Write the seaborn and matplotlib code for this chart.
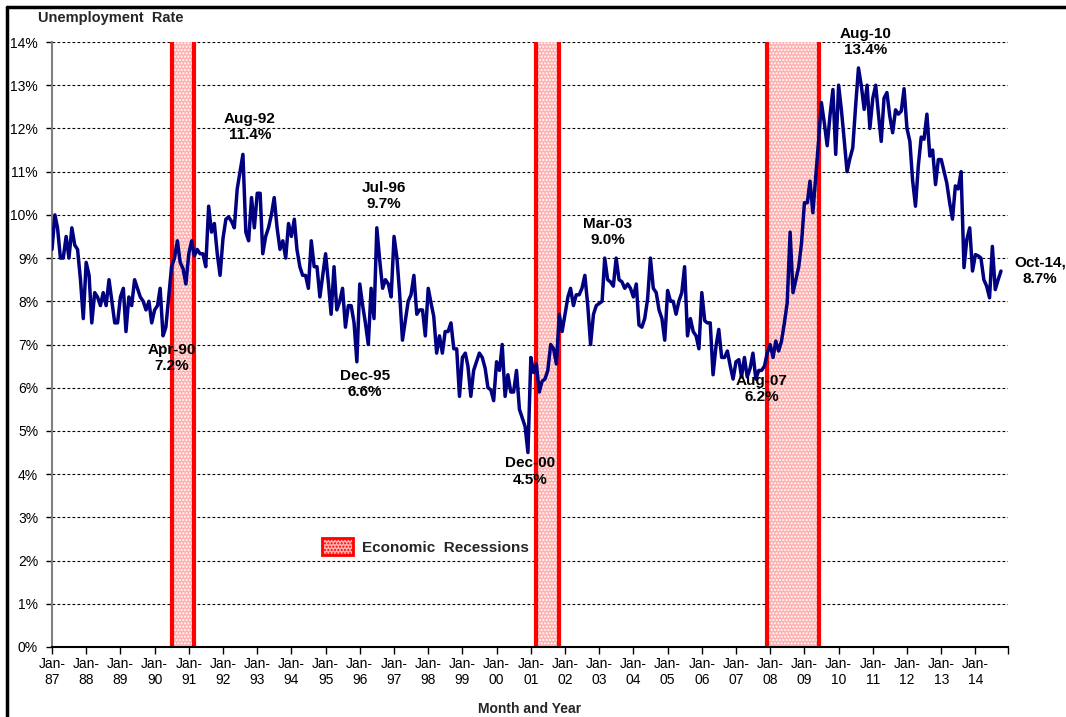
import numpy as np
import pandas as pd
import matplotlib as mpl
mpl.use('Agg')
import matplotlib.pyplot as plt
from matplotlib.patches import Patch
from matplotlib.lines import Line2D
import seaborn as sns

# monthly unemployment rate (%), Jan-87 .. Oct-14, 12 values per row
rates_87_93 = [
    9.2, 10.0, 9.7, 9.0, 9.0, 9.5, 9.0, 9.7, 9.3, 9.2, 8.5, 7.6,
    8.9, 8.6, 7.5, 8.2, 8.1, 7.9, 8.2, 7.9, 8.5, 8.0, 7.5, 7.5,
    8.1, 8.3, 7.3, 8.1, 7.9, 8.5, 8.3, 8.1, 8.0, 7.8, 8.0, 7.5,
    7.8, 7.9, 8.3, 7.2, 7.4, 8.1, 8.8, 9.0, 9.4, 8.9, 8.75, 8.4,
    9.1, 9.4, 9.05, 9.2, 9.1, 9.1, 8.8, 10.2, 9.6, 9.8, 9.1, 8.6,
    9.45, 9.9, 9.95, 9.85, 9.7, 10.6, 11.0, 11.4, 9.6, 9.4, 10.4, 9.7,
    10.5, 10.5, 9.1, 9.5, 9.7, 10.0, 10.4, 9.7, 9.2, 9.4, 9.0, 9.8,
]
rates_94_00 = [
    9.5, 9.9, 9.2, 8.8, 8.6, 8.6, 8.3, 9.4, 8.8, 8.8, 8.1, 8.6,
    9.1, 8.4, 7.7, 8.8, 7.8, 8.0, 8.3, 7.4, 7.9, 7.9, 7.5, 6.6,
    8.4, 7.9, 7.5, 7.0, 8.3, 7.6, 9.7, 8.95, 8.3, 8.5, 8.4, 8.1,
    9.5, 9.0, 8.2, 7.1, 7.55, 8.0, 8.15, 8.6, 7.7, 7.8, 7.8, 7.2,
    8.3, 7.95, 7.65, 6.8, 7.2, 6.8, 7.3, 7.3, 7.5, 6.9, 6.9, 5.8,
    6.7, 6.8, 6.5, 5.8, 6.4, 6.6, 6.8, 6.7, 6.45, 6.0, 5.95, 5.7,
    6.6, 6.4, 7.0, 5.8, 6.3, 5.9, 5.9, 6.4, 5.5, 5.3, 5.1, 4.5,
]
rates_01_07 = [
    6.7, 6.35, 6.55, 5.9, 6.15, 6.2, 6.4, 7.0, 6.9, 6.55, 7.7, 7.3,
    7.7, 8.1, 8.3, 7.9, 8.15, 8.15, 8.3, 8.6, 7.9, 7.0, 7.7, 7.9,
    7.95, 8.0, 9.0, 8.5, 8.45, 8.35, 9.0, 8.5, 8.45, 8.3, 8.4, 8.3,
    8.1, 8.4, 7.45, 7.4, 7.6, 8.05, 9.0, 8.3, 8.2, 7.8, 7.6, 7.1,
    8.25, 8.0, 8.0, 7.7, 8.0, 8.2, 8.8, 7.2, 7.6, 7.3, 7.2, 6.9,
    8.2, 7.55, 7.5, 7.5, 6.3, 6.95, 7.35, 6.7, 6.7, 6.85, 6.5, 6.2,
    6.6, 6.65, 6.25, 6.7, 6.25, 6.45, 6.8, 6.2, 6.4, 6.4, 6.5, 6.8,
]
rates_08_14 = [
    7.0, 6.7, 7.08, 6.85, 7.08, 7.5, 7.97, 9.6, 8.2, 8.5, 8.8, 9.35,
    10.28, 10.28, 10.78, 10.05, 10.86, 11.7, 12.6, 12.13, 11.6, 12.3, 12.9, 11.4,
    13.0, 12.4, 11.75, 11.0, 11.3, 11.55, 12.5, 13.4, 12.98, 12.44, 13.0, 12.0,
    12.7, 13.0, 12.36, 11.7, 12.7, 12.83, 12.29, 11.9, 12.43, 12.33, 12.4, 12.92,
    12.0, 11.7, 10.8, 10.2, 11.13, 11.8, 11.75, 12.33, 11.36, 11.5, 10.7, 11.28,
    11.28, 11.0, 10.74, 10.28, 9.9, 10.67, 10.6, 11.0, 8.78, 9.43, 9.7, 8.7,
    9.08, 9.05, 9.0, 8.5, 8.35, 8.08, 9.27, 8.27, 8.5, 8.7,
]

recession_starts = ['1990-07-01', '2001-03-01', '2007-12-01']
recession_ends = ['1991-03-01', '2001-11-01', '2009-06-01']

callout_months = ['1990-04-01', '1992-08-01', '1995-12-01', '1996-07-01', '2000-12-01',
                  '2003-03-01', '2007-08-01', '2010-08-01', '2014-10-01']
callout_labels = ['Apr-90\n7.2%', 'Aug-92\n11.4%', 'Dec-95\n6.6%', 'Jul-96\n9.7%', 'Dec-00\n4.5%',
                  'Mar-03\n9.0%', 'Aug-07\n6.2%', 'Aug-10\n13.4%', 'Oct-14,\n8.7%']
# text offsets from the point, in pixels
callout_offsets = [(9, -22), (7, 27), (8, -22), (7, 32), (2, -19), (3, 26), (6, -10), (7, 26), (39, 0)]

years = list(range(1987, 2015))

rate = rates_87_93 + rates_94_00 + rates_01_07 + rates_08_14
df = pd.DataFrame({'Month': pd.date_range('1987-01-01', periods=len(rate), freq='MS'),
                   'Rate': rate})

sns.set_theme(style='white')
plt.rcParams['font.family'] = ['Liberation Sans', 'DejaVu Sans']

W, H = 1066, 717
fig = plt.figure(figsize=(W / 100, H / 100), dpi=100)
ax = fig.add_axes([52 / W, 1 - 647 / H, 956 / W, 605 / H])

# recession bands
band_color = '#ffb0b0'
for start, end in zip(recession_starts, recession_ends):
    ax.axvspan(pd.Timestamp(start), pd.Timestamp(end), facecolor=band_color,
               edgecolor='white', hatch='.....', lw=0, zorder=1)
    for edge in (start, end):
        ax.axvline(pd.Timestamp(edge), color='red', lw=3, zorder=2)

sns.lineplot(data=df, x='Month', y='Rate', color='#000080', lw=2.5, ax=ax, zorder=3)

ax.set_ylim(0, 14)
ax.set_xlim(pd.Timestamp('1987-01-01'), pd.Timestamp('2014-12-15'))
ax.set_yticks(range(0, 15))
ax.set_yticklabels([f'{v}%' for v in range(15)])
ax.set_xticks([pd.Timestamp(f'{y}-01-01') for y in years])
ax.set_xticklabels([f'Jan-\n{str(y)[2:]}' for y in years])
ax.set_xticks([pd.Timestamp('2014-12-15')], minor=True)
ax.set_xlabel('')
ax.set_ylabel('')

ax.yaxis.grid(True, color='black', ls=(0, (2.5, 2)), lw=0.8, zorder=0)
ax.xaxis.grid(False)
ax.set_axisbelow(True)

for side in ('top', 'right'):
    ax.spines[side].set_visible(False)
ax.spines['bottom'].set_color('black')
ax.spines['bottom'].set_linewidth(1.5)
ax.spines['left'].set_color('#808080')
ax.spines['left'].set_linewidth(1.5)

ax.tick_params(axis='x', which='both', bottom=True, direction='out', length=5, width=1,
               color='black', labelsize=10, pad=2, labelcolor='black')
ax.tick_params(axis='y', left=True, direction='out', length=4, width=1,
               color='black', labelsize=10, pad=6, labelcolor='black')

# callouts
for month, label, (dx, dy) in zip(callout_months, callout_labels, callout_offsets):
    ts = pd.Timestamp(month)
    val = df.loc[df['Month'] == ts, 'Rate'].iloc[0]
    ax.annotate(label, xy=(ts, val), xytext=(dx, dy), textcoords='offset pixels',
                ha='center', va='center', fontsize=11, fontweight='bold', color='black',
                multialignment='center', zorder=5)

# legend
handle = Patch(facecolor=band_color, edgecolor='red', hatch='.....', lw=2)
leg = ax.legend([handle], ['Economic  Recessions'], loc='center left',
                bbox_to_anchor=((322 - 52) / 956, (647 - 546.5) / 605),
                frameon=False, borderpad=0, borderaxespad=0, handlelength=2.0,
                handleheight=1.25, handletextpad=0.65,
                prop={'weight': 'bold', 'size': 11})

fig.text(38 / W, 1 - 18 / H, 'Unemployment  Rate', fontsize=10.5, fontweight='bold',
         ha='left', va='center')
fig.text(530 / W, 1 - 709 / H, 'Month and Year', fontsize=10, fontweight='bold',
         ha='center', va='center')

# partial frame around the picture (top and left edges visible in the reference)
fig.add_artist(Line2D([7 / W, 7 / W], [0, 1 - 7 / H], color='black', lw=2.5, transform=fig.transFigure))
fig.add_artist(Line2D([7 / W, 1], [1 - 7 / H, 1 - 7 / H], color='black', lw=2.5, transform=fig.transFigure))

fig.savefig('out.png', dpi=100, facecolor='white')
